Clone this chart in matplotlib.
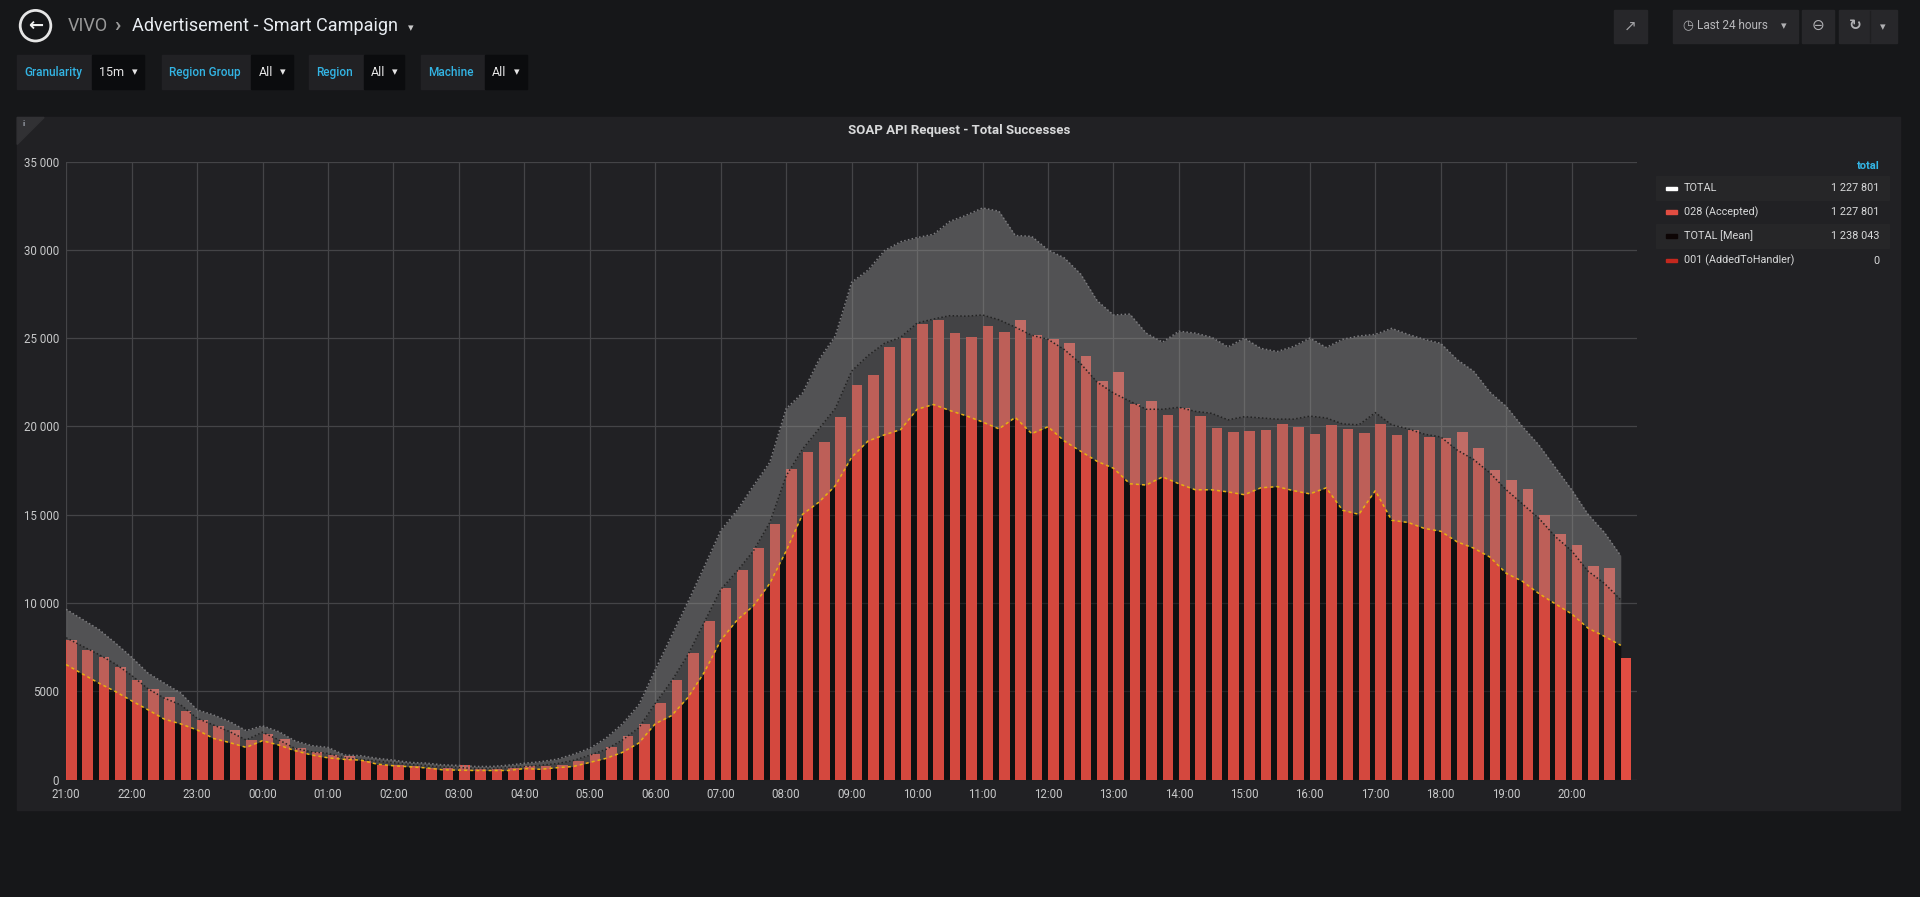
import numpy as np
import pandas as pd
import matplotlib
matplotlib.use('Agg')
import matplotlib.pyplot as plt
import matplotlib.dates as mdates
from matplotlib.patches import Rectangle, Ellipse, Polygon

plt.rcParams['font.family'] = ['Roboto', 'DejaVu Sans']

# 15 minute buckets over the last 24 hours (21:00 -> 20:45)
times = pd.date_range('2019-05-01 21:00', periods=96, freq='15min')

# 028 (Accepted) per bucket (bars)
accepted = [
    7930, 7360, 6940, 6360, 5620, 5100, 4670, 3870, 3360, 3020, 2810, 2240,
    2580, 2300, 1760, 1570, 1390, 1330, 1040, 820, 850, 780, 660, 660,
    810, 580, 580, 650, 740, 740, 810, 1060, 1470, 1870, 2470, 3160,
    4310, 5620, 7190, 8960, 10830, 11890, 13130, 14490, 17560, 18530, 19100, 20530,
    22350, 22900, 24520, 24980, 25810, 26040, 25280, 25050, 25670, 25350, 26040, 25160,
    24930, 24700, 24010, 22560, 23090, 21240, 21410, 20670, 21060, 20600, 19910, 19700,
    19750, 19820, 20140, 19950, 19560, 20070, 19860, 19630, 20140, 19520, 19790, 19400,
    19350, 19700, 18780, 17530, 16940, 16450, 14980, 13920, 13290, 12070, 11980, 6910,
]

# TOTAL [Mean] and its band
total_mean = [
    8030, 7550, 7080, 6550, 5900, 5140, 4610, 4230, 3470, 3090, 2710, 2240,
    2680, 2240, 1760, 1570, 1480, 1230, 1140, 1040, 950, 850, 780, 700,
    680, 620, 620, 670, 740, 810, 900, 1080, 1380, 1710, 2240, 2930,
    4310, 5580, 7070, 8920, 10760, 11800, 12950, 14560, 17200, 18710, 19860, 21010,
    23130, 24010, 24700, 25050, 25850, 26080, 26270, 26240, 26310, 26040, 25620, 25160,
    24930, 24350, 23550, 22510, 21890, 21430, 20970, 20970, 21080, 20850, 20740, 20370,
    20550, 20480, 20410, 20410, 20580, 20480, 20140, 20090, 20780, 20090, 19860, 19560,
    19400, 18660, 18130, 17370, 16410, 15600, 14790, 13760, 12950, 11800, 11110, 10180,
]
total_upper = [
    9640, 9070, 8500, 7740, 6930, 6030, 5460, 4900, 3950, 3660, 3280, 2770,
    3040, 2710, 2180, 1920, 1820, 1390, 1350, 1200, 1100, 970, 930, 830,
    800, 740, 740, 810, 920, 1010, 1150, 1430, 1770, 2350, 3160, 4240,
    6220, 8160, 10070, 12070, 14100, 15250, 16640, 17970, 21010, 21890, 23780, 25120,
    28160, 28850, 29950, 30460, 30690, 30880, 31610, 31960, 32370, 32190, 30810, 30760,
    30000, 29540, 28620, 27120, 26310, 26360, 25280, 24770, 25390, 25280, 25050, 24500,
    25000, 24420, 24240, 24520, 25000, 24470, 24930, 25120, 25210, 25550, 25210, 24930,
    24700, 23780, 23130, 21940, 21130, 19980, 18940, 17670, 16410, 15020, 13990, 12670,
]
total_lower = [
    6510, 5980, 5460, 4990, 4460, 3950, 3420, 3150, 2810, 2330, 2090, 1820,
    2200, 1950, 1630, 1390, 1230, 1140, 1100, 870, 780, 720, 660, 550,
    530, 510, 510, 510, 620, 580, 670, 740, 970, 1200, 1540, 2070,
    3160, 3620, 4650, 6080, 7880, 9030, 9840, 11110, 12950, 15020, 15710, 16640,
    18250, 19170, 19520, 19820, 20970, 21240, 20900, 20600, 20250, 19860, 20510, 19590,
    19980, 19170, 18590, 18020, 17630, 16750, 16680, 17140, 16750, 16410, 16410, 16290,
    16130, 16520, 16590, 16360, 16180, 16520, 15250, 15020, 16360, 14680, 14560, 14220,
    14060, 13460, 13110, 12600, 11680, 11220, 10530, 9950, 9380, 8570, 8110, 7600,
]

y_ticks = [0, 5000, 10000, 15000, 20000, 25000, 30000, 35000]
y_tick_labels = ['0', '5000', '10 000', '15 000', '20 000', '25 000', '30 000', '35 000']

legend_names = ['TOTAL', '028 (Accepted)', 'TOTAL [Mean]', '001 (AddedToHandler)']
legend_totals = ['1 227 801', '1 227 801', '1 238 043', '0']
legend_colors = ['#ffffff', '#e24d42', '#0d0505', '#c4281e']

variables = [('Granularity', '15m'), ('Region Group', 'All'), ('Region', 'All'), ('Machine', 'All')]

# ---------------------------------------------------------------
W, H = 1568.0, 733.0  # layout measured on a 1568 wide copy


def fx(x):
    return x / W


def fy(y):
    return 1 - y / H


fig = plt.figure(figsize=(19.2, 8.97), dpi=100, facecolor='#161719')

# panel (kept below the axes)
fig.patches.append(Rectangle((fx(14), fy(662)), fx(1552) - fx(14), fy(96) - fy(662),
                             transform=fig.transFigure, color='#212124', zorder=-10))
fig.patches.append(Polygon([(fx(14), fy(96)), (fx(36), fy(96)), (fx(14), fy(118))],
                           closed=True, transform=fig.transFigure, color='#313134', zorder=-9))
fig.text(fx(19), fy(101), 'i', color='#a0a6b0', fontsize=6, ha='center', va='center',
         fontweight='bold')
fig.text(fx(783), fy(107), 'SOAP API Request - Total Successes', color='#d8d9da',
         fontsize=9.5, fontweight='bold', ha='center', va='center')

# header
fig.patches.append(Ellipse((fx(29), fy(21)), 25 / W, 25 / H, transform=fig.transFigure,
                           fill=False, ec='#e6e6e6', lw=2, zorder=2))
fig.text(fx(29), fy(21), '\u2190', color='#f0f0f0', fontsize=13, fontweight='bold',
         ha='center', va='center', family='DejaVu Sans')
fig.text(fx(55), fy(21), 'VIVO', color='#9a9a9a', fontsize=13, va='center')
fig.text(fx(93), fy(21), '\u203a', color='#9a9a9a', fontsize=15, va='center', fontweight='bold')
fig.text(fx(108), fy(21), 'Advertisement - Smart Campaign', color='#e9edf2', fontsize=13,
         va='center')
fig.text(fx(333), fy(23), '\u25be', color='#c8c8c8', fontsize=8, va='center',
         family='DejaVu Sans')

# template variables
boxes = [(14, 75, 118), (132, 205, 239), (252, 297, 330), (344, 396, 430)]
for (label, value), (x0, x1, x2) in zip(variables, boxes):
    fig.patches.append(Rectangle((fx(x0), fy(73)), fx(x1) - fx(x0), fy(45) - fy(73),
                                 transform=fig.transFigure, color='#212124', zorder=1))
    fig.patches.append(Rectangle((fx(x1), fy(73)), fx(x2) - fx(x1), fy(45) - fy(73),
                                 transform=fig.transFigure, color='#0b0c0e', zorder=1))
    fig.text(fx(x0 + 6), fy(59), label, color='#33b5e5', fontsize=8.5, va='center',
             fontweight='medium')
    fig.text(fx(x1 + 6), fy(59), value, color='#e6e6e6', fontsize=9, va='center')
    fig.text(fx(x2 - 8), fy(59), '\u25be', color='#e6e6e6', fontsize=8, va='center',
             ha='center', family='DejaVu Sans')

# top right buttons
for x0, x1 in [(1318, 1345), (1366, 1468), (1472, 1498), (1502, 1549)]:
    fig.patches.append(Rectangle((fx(x0), fy(35)), fx(x1) - fx(x0), fy(8) - fy(35),
                                 transform=fig.transFigure, color='#27272a', zorder=1))
fig.lines.append(plt.Line2D([fx(1527), fx(1527)], [fy(9), fy(34)], transform=fig.transFigure,
                            color='#1f1f21', lw=1))
fig.text(fx(1331), fy(21), '\u2197', color='#a0a0a3', fontsize=11, ha='center', va='center',
         family='DejaVu Sans')
fig.text(fx(1378), fy(21), '\u25f7', color='#b0b0b3', fontsize=9, ha='center', va='center',
         family='DejaVu Sans')
fig.text(fx(1386), fy(21), 'Last 24 hours', color='#b8b8bb', fontsize=8.5, va='center')
fig.text(fx(1457), fy(21), '\u25be', color='#b0b0b3', fontsize=8, ha='center', va='center',
         family='DejaVu Sans')
fig.text(fx(1485), fy(21), '\u2296', color='#b0b0b3', fontsize=11, ha='center', va='center',
         family='DejaVu Sans')
fig.text(fx(1515), fy(21), '\u21bb', color='#b0b0b3', fontsize=11, ha='center', va='center',
         family='DejaVu Sans', fontweight='bold')
fig.text(fx(1538), fy(22), '\u25be', color='#b0b0b3', fontsize=8, ha='center', va='center',
         family='DejaVu Sans')

# ---------------------------------------------------------------
ax = fig.add_axes([fx(54), fy(637), fx(1337) - fx(54), fy(132) - fy(637)], zorder=5)
ax.set_facecolor('none')

x = mdates.date2num(times)
bar_w = 15 / 1440 * 0.65

ax.fill_between(x, 0, total_lower, color='black', alpha=0.45, lw=0, zorder=1)
ax.bar(x, accepted, width=bar_w, align='edge', color='#e24d42', lw=0, zorder=2)
ax.fill_between(x, 0, total_lower, color='black', alpha=0.06, lw=0, zorder=3)
ax.fill_between(x, total_lower, total_mean, color='#7e7e7e', alpha=0.37, lw=0, zorder=4)
ax.fill_between(x, total_mean, total_upper, color='#989898', alpha=0.42, lw=0, zorder=4)
ax.plot(x, total_upper, color='#7c7c7f', lw=1.1, ls=(0, (1, 1.5)), zorder=5)
ax.plot(x, total_mean, color='#232323', lw=1.1, ls=(0, (1, 1.5)), zorder=5)
ax.plot(x, total_lower, color='#e8b00f', lw=1.1, ls=(0, (2, 2)), zorder=5)

ax.set_xlim(x[0], x[0] + 1)
ax.set_ylim(0, 35000)
ax.set_xticks(x[::4])  # every full hour, 21:00 .. 20:00
ax.xaxis.set_major_formatter(mdates.DateFormatter('%H:%M'))
ax.set_yticks(y_ticks)
ax.set_yticklabels(y_tick_labels)
ax.grid(True, color='#444447', lw=0.9, zorder=0)
ax.set_axisbelow(True)
for s in ax.spines.values():
    s.set_visible(False)
ax.tick_params(length=0, colors='#c8c9ca', labelsize=8.3)
ax.tick_params(axis='y', pad=5)
ax.tick_params(axis='x', pad=6)

# legend table on the right
fig.text(fx(1535), fy(136), 'total', color='#33b5e5', fontsize=8, fontweight='bold',
         ha='right', va='center')
row_y = [154, 173.5, 193, 213]
for i, (name, tot, col) in enumerate(zip(legend_names, legend_totals, legend_colors)):
    yc = row_y[i]
    if i % 2 == 0:
        fig.patches.append(Rectangle((fx(1352), fy(yc + 9.5)), fx(1543) - fx(1352), 19.5 / H,
                                     transform=fig.transFigure, color='#262628', zorder=1))
    fig.patches.append(Rectangle((fx(1360.5), fy(yc + 1.5)), 9 / W, 3 / H,
                                 transform=fig.transFigure, color=col, zorder=2))
    fig.text(fx(1375), fy(yc), name, color='#d8d9da', fontsize=7.8, va='center')
    fig.text(fx(1535), fy(yc), tot, color='#d8d9da', fontsize=7.8, va='center', ha='right')

fig.savefig('out.png', dpi=100, facecolor=fig.get_facecolor())
